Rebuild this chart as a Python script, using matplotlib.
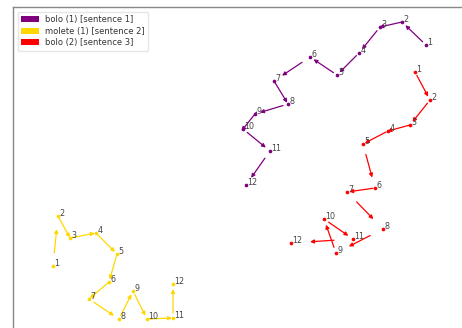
import numpy as np
import matplotlib
matplotlib.use("Agg")
import matplotlib.pyplot as plt
from matplotlib.patches import Patch

# 2-D positions of each word token, step by step
bolo1_x = [42.6, 40.2, 38.0, 35.9, 33.7, 31.0, 27.4, 28.8, 25.5, 24.3, 27.0, 24.6]
bolo1_y = [28.3, 30.6, 30.1, 27.5, 25.3, 27.1, 24.7, 22.4, 21.4, 19.9, 17.7, 14.3]

molete1_x = [5.3, 5.8, 7.0, 9.6, 11.7, 10.9, 8.9, 11.9, 13.3, 14.7, 17.3, 17.3]
molete1_y = [6.2, 11.2, 9.0, 9.5, 7.4, 4.6, 2.9, 0.9, 3.7, 0.9, 1.0, 4.4]

bolo2_x = [41.5, 43.0, 41.0, 38.8, 36.3, 37.5, 34.7, 38.3, 33.6, 32.4, 35.3, 29.1]
bolo2_y = [25.6, 22.8, 20.3, 19.7, 18.4, 14.0, 13.6, 9.9, 7.5, 10.9, 8.9, 8.5]

step_labels = [str(i) for i in range(1, 13)]

series = [
    ("bolo (1) [sentence 1]", "#800080", bolo1_x, bolo1_y),
    ("molete (1) [sentence 2]", "#FFD700", molete1_x, molete1_y),
    ("bolo (2) [sentence 3]", "#FF0000", bolo2_x, bolo2_y),
]

W, H = 462, 328
fig = plt.figure(figsize=(W / 100, H / 100), dpi=100)
# axes runs off the right and bottom edges of the figure
left_px, right_px, top_px, bottom_px = 13, 475, 7, 340
ax = fig.add_axes([left_px / W, (H - bottom_px) / H,
                   (right_px - left_px) / W, (bottom_px - top_px) / H])
ax.set_xlim(left_px / 10, right_px / 10)
ax.set_ylim((H - bottom_px) / 10, (H - top_px) / 10)
ax.set_xticks([])
ax.set_yticks([])
for s in ax.spines.values():
    s.set_color("#888888")
    s.set_linewidth(1.0)

arrow_len = 2.4  # fixed arrow length, centred on each step

for name, color, xs, ys in series:
    xs = np.asarray(xs)
    ys = np.asarray(ys)
    ax.scatter(xs, ys, s=7, color=color, zorder=3, linewidths=0)
    for i in range(len(xs) - 1):
        p0 = np.array([xs[i], ys[i]])
        p1 = np.array([xs[i + 1], ys[i + 1]])
        d = p1 - p0
        u = d / np.hypot(*d)
        mid = (p0 + p1) / 2
        a = mid - u * arrow_len / 2
        b = mid + u * arrow_len / 2
        ax.annotate("", xy=b, xytext=a,
                    arrowprops=dict(arrowstyle="-|>", color=color, lw=0.9,
                                    shrinkA=0, shrinkB=0, mutation_scale=5.5))
    for x, y, lab in zip(xs, ys, step_labels):
        ax.annotate(lab, (x, y), xytext=(1.0, -0.3), textcoords="offset points",
                    fontsize=5.8, color="#444444", ha="left", va="baseline")

handles = [Patch(facecolor=c, edgecolor="none", label=n) for n, c, _, _ in series]
leg = ax.legend(handles=handles, loc="upper left", fontsize=6.0, frameon=True,
                borderaxespad=0.55, borderpad=0.45, handlelength=2.15,
                handleheight=0.75, handletextpad=0.7, labelspacing=0.3,
                framealpha=1.0, edgecolor="#e6e6e6", fancybox=True)
for t in leg.get_texts():
    t.set_color("#333333")

fig.savefig("out.png", dpi=100)
